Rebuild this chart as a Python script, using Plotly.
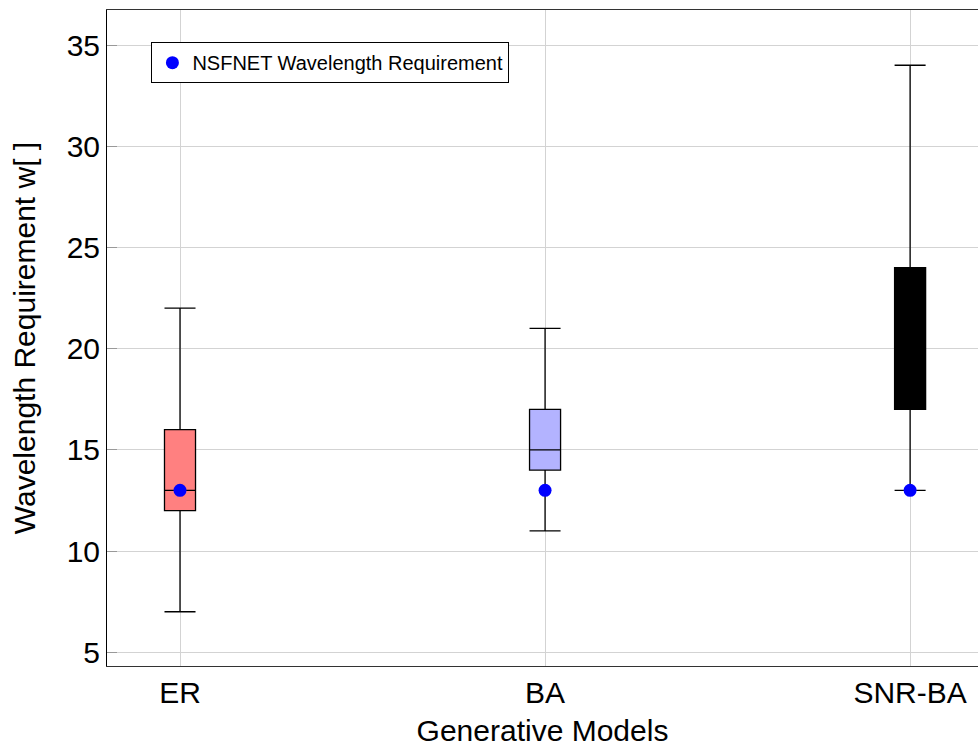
import plotly.graph_objects as go

# Wavelength requirement statistics per generative model
models = ["ER", "BA", "SNR-BA"]
lower_whisker = [7, 11, 13]
q1 = [12, 14, 17]
median = [13, 15, 20]
q3 = [16, 17, 24]
upper_whisker = [22, 21, 34]
box_fill = ["#FF8080", "#B3B3FF", "#000000"]

# NSFNET reference wavelength requirement
nsfnet_requirement = [13, 13, 13]

FONT = "Liberation Sans, Arial, sans-serif"

fig = go.Figure()
for i, m in enumerate(models):
    fig.add_trace(go.Box(
        x=[m], q1=[q1[i]], median=[median[i]], q3=[q3[i]],
        lowerfence=[lower_whisker[i]], upperfence=[upper_whisker[i]],
        fillcolor=box_fill[i], line=dict(color="#000000", width=1.3),
        width=0.085, whiskerwidth=1, boxpoints=False,
        showlegend=False, hoverinfo="skip",
    ))

fig.add_trace(go.Scatter(
    x=models, y=nsfnet_requirement, mode="markers",
    marker=dict(color="#0000FF", size=13, line=dict(width=0)),
    name="NSFNET Wavelength Requirement",
))

fig.update_layout(
    width=978, height=747,
    margin=dict(l=107, r=0, t=10, b=81),
    paper_bgcolor="white", plot_bgcolor="white",
    font=dict(family=FONT, color="#000000"),
    showlegend=True,
    legend=dict(
        x=0.051, y=0.951, xanchor="left", yanchor="top",
        bgcolor="white", bordercolor="#000000", borderwidth=1,
        font=dict(family=FONT, size=20, color="#000000"),
        itemwidth=30, tracegroupgap=0,
    ),
    xaxis=dict(
        type="category", range=[-0.2, 2.186],
        showgrid=True, gridcolor="#d3d3d3", gridwidth=1,
        showline=True, linecolor="#333333", linewidth=1, mirror=True,
        ticks="", tickfont=dict(family=FONT, size=30),
        title=dict(text="Generative Models", font=dict(family=FONT, size=30), standoff=16),
        zeroline=False,
    ),
    yaxis=dict(
        range=[4.32, 36.73], tickvals=[5, 10, 15, 20, 25, 30, 35],
        showgrid=True, gridcolor="#d3d3d3", gridwidth=1,
        showline=True, linecolor="#000000", linewidth=1, mirror=False,
        ticks="inside", ticklen=10, tickcolor="#999999",
        tickfont=dict(family=FONT, size=30),
        title=dict(text="Wavelength Requirement w[ ]", font=dict(family=FONT, size=30), standoff=22),
        zeroline=False,
    ),
)

fig.write_html("out.html")
